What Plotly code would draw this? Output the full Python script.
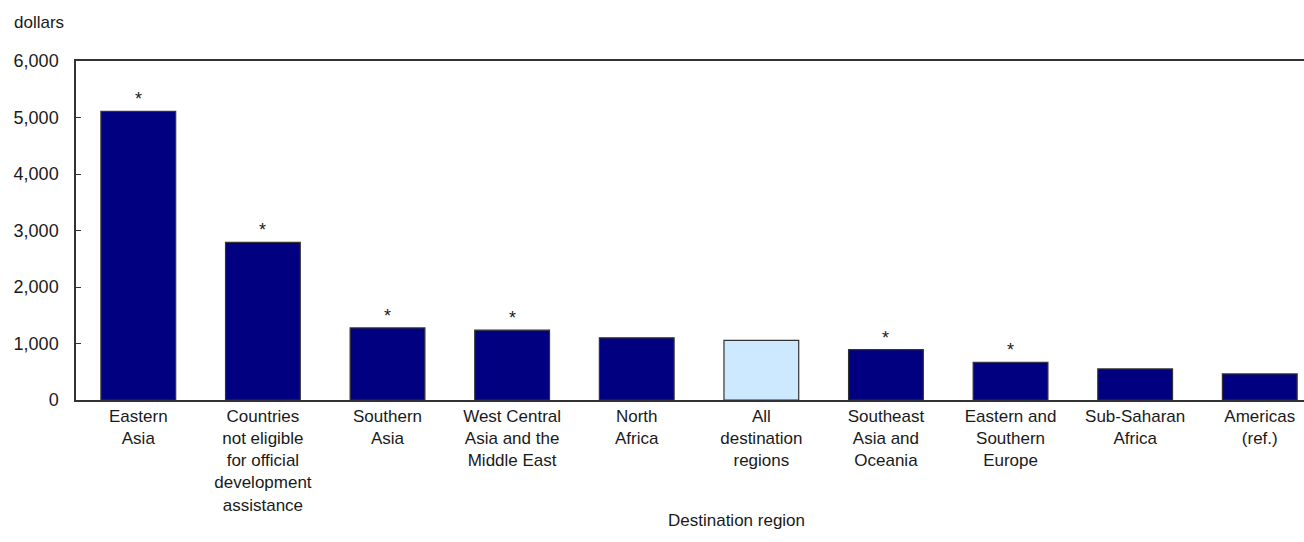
import plotly.graph_objects as go

categories = [
    "Eastern<br>Asia",
    "Countries<br>not eligible<br>for official<br>development<br>assistance",
    "Southern<br>Asia",
    "West Central<br>Asia and the<br>Middle East",
    "North<br>Africa",
    "All<br>destination<br>regions",
    "Southeast<br>Asia and<br>Oceania",
    "Eastern and<br>Southern<br>Europe",
    "Sub-Saharan<br>Africa",
    "Americas<br>(ref.)",
]
values = [5110, 2790, 1275, 1235, 1100, 1055, 890, 668, 550, 462]
significant = [True, True, True, True, False, False, True, True, False, False]
highlight = [False, False, False, False, False, True, False, False, False, False]

y_ticks = [0, 1000, 2000, 3000, 4000, 5000, 6000]

NAVY = "#000080"
LIGHT = "#cce9ff"
FONT = "Liberation Sans, Arial, sans-serif"

colors = [LIGHT if h else NAVY for h in highlight]

fig = go.Figure()
fig.add_trace(go.Bar(
    x=categories,
    y=values,
    marker=dict(color=colors, line=dict(color="#333333", width=1.2)),
    width=0.6,
    showlegend=False,
    hoverinfo="x+y",
))

annotations = []
for c, v, s in zip(categories, values, significant):
    if s:
        annotations.append(dict(
            x=c, y=v, xref="x", yref="y", text="*", showarrow=False,
            yanchor="bottom", yshift=0, font=dict(size=18, color="#1a1a1a", family=FONT),
        ))

annotations.append(dict(
    x=-0.052, y=1.113, xref="paper", yref="paper", text="dollars",
    showarrow=False, xanchor="left", yanchor="middle",
    font=dict(size=17, color="#1a1a1a", family=FONT),
))
annotations.append(dict(
    x=0.5375, y=-0.355, xref="paper", yref="paper", text="Destination region",
    showarrow=False, xanchor="center", yanchor="middle",
    font=dict(size=17, color="#1a1a1a", family=FONT),
))

fig.update_layout(
    width=1304,
    height=542,
    margin=dict(l=76, r=0, t=61, b=142),
    plot_bgcolor="white",
    paper_bgcolor="white",
    font=dict(family=FONT, size=17, color="#1a1a1a"),
    bargap=0.4,
    annotations=annotations,
    xaxis=dict(
        range=[-0.5, 9.355],
        showline=True,
        mirror=True,
        linecolor="#333333",
        linewidth=1.5,
        ticks="",
        showgrid=False,
        tickfont=dict(size=17, family=FONT, color="#1a1a1a"),
        tickangle=0,
    ),
    yaxis=dict(
        range=[0, 6000],
        tickvals=y_ticks,
        tickformat=",",
        showline=True,
        linecolor="#333333",
        linewidth=1.5,
        ticks="inside",
        ticklen=5,
        tickcolor="#333333",
        showgrid=False,
        zeroline=False,
        ticklabelstandoff=12,
        tickfont=dict(size=18, family=FONT, color="#1a1a1a"),
    ),
)

fig.write_html(
    "out.html",
    config={"displayModeBar": False},
    post_script="document.body.style.margin='0';document.body.style.overflow='hidden';",
)
